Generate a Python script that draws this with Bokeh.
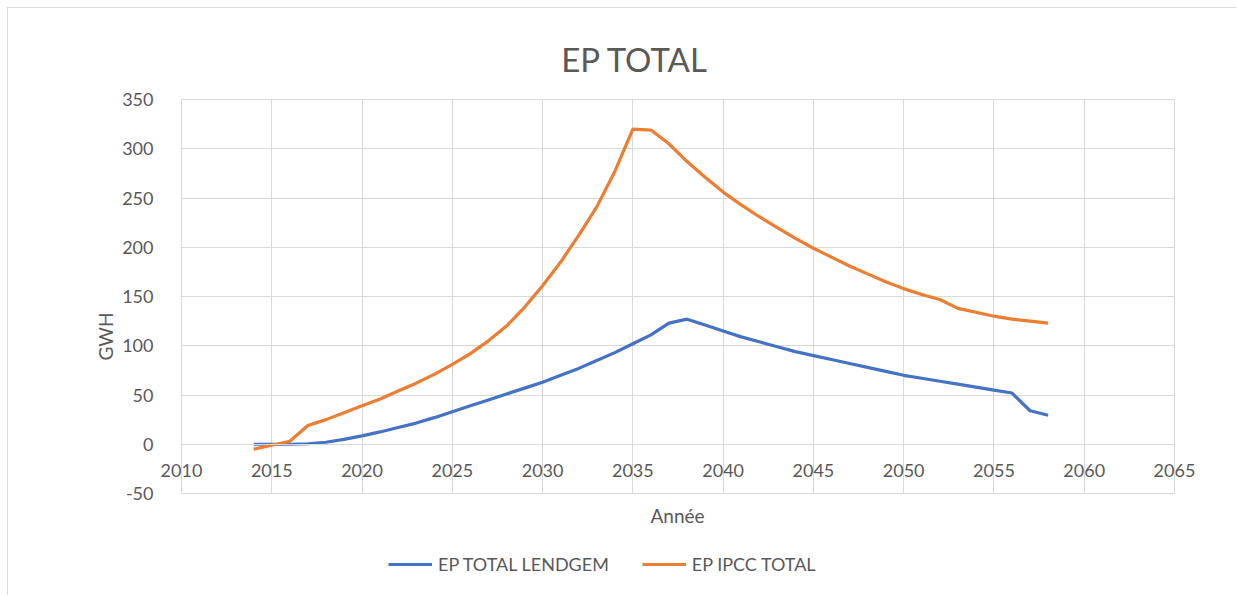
from math import pi
from bokeh.plotting import figure
from bokeh.models import (Range1d, SingleIntervalTicker, Legend, LegendItem, Label,
                          LinearAxis, PrintfTickFormatter)
from bokeh.embed import file_html
from bokeh.resources import INLINE

years = list(range(2014, 2059))
lendgem = [0, 0, 0, 0.5, 2, 5, 8.5, 12.5, 17, 21.5, 27, 33, 39, 45, 51, 57, 63, 70, 77, 85,
           93, 102, 111, 123, 127, 121, 115, 109, 104, 99, 94, 90, 86, 82, 78, 74, 70, 67,
           64, 61, 58, 55, 52, 34, 29.5]
ipcc = [-5, -1, 3, 19, 25, 32, 39, 46, 54, 62, 71, 81, 92, 105, 120, 139, 161, 185, 212, 241,
        277, 320, 319, 305, 287, 271, 256, 243, 231, 220, 209, 199, 190, 181, 173, 165, 158,
        152, 147, 138, 134, 130, 127, 125, 123]
series_names = ["EP TOTAL LENDGEM", "EP IPCC TOTAL"]
title_text = "EP TOTAL"
x_label = "Année"
y_label = "GWH"
x_min, x_max, x_step = 2010, 2065, 5
y_min, y_max, y_step = -50, 350, 50

FONT = "Lato"
GREY = "#595959"
GRID = "#d9d9d9"

# layout (page pixels)
W, H = 1229, 588
CX, CY = 8, 8                      # canvas origin on the page
PL, PR, PT, PB = 181, 1174, 99, 493  # plot area edges

sx = (x_max - x_min) / (PR - PL)
sy = (y_max - y_min) / (PB - PT)
def dx(px): return x_min + (px - PL) * sx
def dy(py): return y_min + (PB - py) * sy

p = figure(width=W, height=H, output_backend="svg", toolbar_location=None,
           x_range=Range1d(dx(CX), dx(CX + W)), y_range=Range1d(dy(CY + H), dy(CY)),
           min_border=0, x_axis_location=None, y_axis_location=None)
p.styles = {"margin-left": "7px", "margin-top": "7px",
            "border-left": "1px solid #d9d9d9", "border-top": "1px solid #d9d9d9"}
p.outline_line_color = None

p.xgrid.ticker = SingleIntervalTicker(interval=x_step)
p.ygrid.ticker = SingleIntervalTicker(interval=y_step)
p.xgrid.bounds = (x_min, x_max)
p.ygrid.bounds = (y_min, y_max)
p.xgrid.cross_bounds = (y_min, y_max)
p.ygrid.cross_bounds = (x_min, x_max)
p.xgrid.grid_line_color = GRID
p.ygrid.grid_line_color = GRID

ya = LinearAxis(fixed_location=x_min, bounds=(y_min, y_max),
                ticker=SingleIntervalTicker(interval=y_step),
                formatter=PrintfTickFormatter(format="%d"))
xa = LinearAxis(fixed_location=0, bounds=(x_min, x_max),
                ticker=SingleIntervalTicker(interval=x_step),
                formatter=PrintfTickFormatter(format="%d"))
for a in (xa, ya):
    a.axis_line_color = GRID
    a.major_tick_line_color = None
    a.minor_tick_line_color = None
    a.major_tick_out = 0
    a.major_tick_in = 0
    a.major_label_text_font = FONT
    a.major_label_text_font_size = "18px"
    a.major_label_text_color = GREY
ya.major_label_standoff = 24
xa.major_label_standoff = 16
p.add_layout(ya, "left")
p.add_layout(xa, "below")

r1 = p.line(years, lendgem, line_color="#4472C4", line_width=3.2)
r2 = p.line(years, ipcc, line_color="#ED7D31", line_width=3.2)

p.add_layout(Label(x=dx(634.5), y=dy(58), text=title_text, text_align="center",
                   text_baseline="middle", text_font=FONT, text_font_size="33px",
                   text_color=GREY))
p.add_layout(Label(x=dx(105), y=dy(336), text=y_label, angle=pi / 2, text_align="center",
                   text_baseline="middle", text_font=FONT, text_font_size="19px",
                   text_color=GREY))
p.add_layout(Label(x=dx(677), y=dy(515), text=x_label, text_align="center",
                   text_baseline="middle", text_font=FONT, text_font_size="19px",
                   text_color=GREY))

legend = Legend(items=[LegendItem(label=series_names[0], renderers=[r1]),
                       LegendItem(label=series_names[1], renderers=[r2])],
                orientation="horizontal", location=(380, 21), padding=0, margin=0,
                border_line_color=None, background_fill_alpha=0,
                glyph_width=44, label_standoff=6, spacing=33,
                label_text_font=FONT, label_text_font_size="18px", label_text_color=GREY)
p.add_layout(legend, "center")

open("out.html", "w").write(file_html(p, INLINE))
